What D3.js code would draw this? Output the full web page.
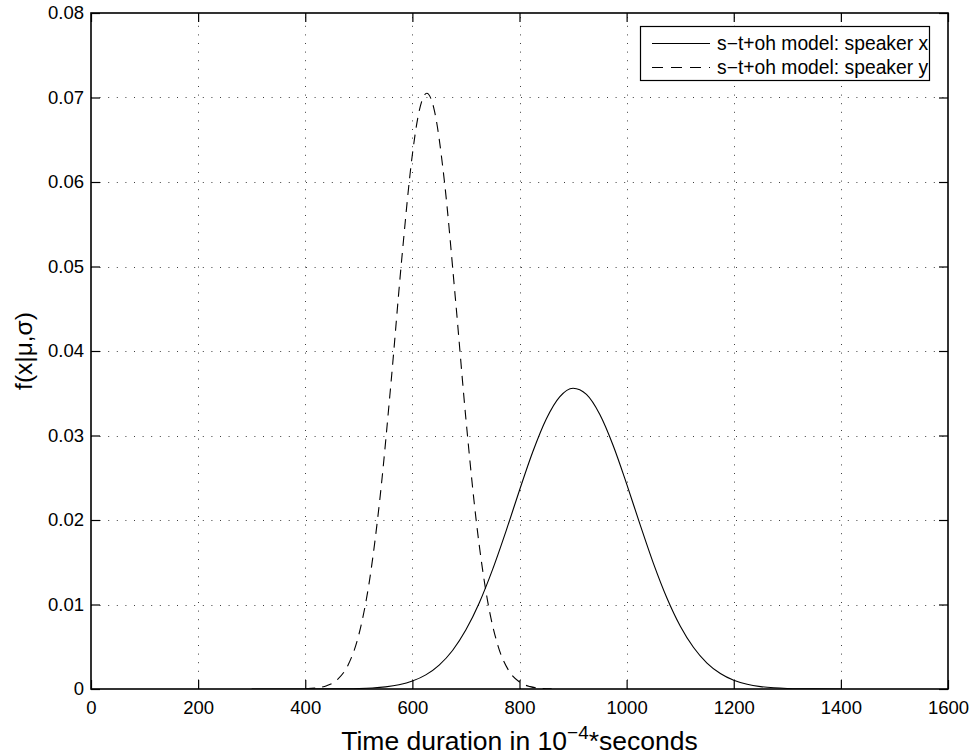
<!DOCTYPE html>
<html>
<head>
<meta charset="utf-8">
<script src="https://cdn.jsdelivr.net/npm/d3@7/dist/d3.min.js"></script>
<style>
  html, body { margin: 0; padding: 0; background: #fff; }
  svg { display: block; font-family: "Liberation Sans", Arial, Helvetica, sans-serif; }
</style>
</head>
<body>
<svg id="chart" width="971" height="756"></svg>
<script>
// ---- data ----
const xTicks = [0, 200, 400, 600, 800, 1000, 1200, 1400, 1600];
const yTicks = [0, 0.01, 0.02, 0.03, 0.04, 0.05, 0.06, 0.07, 0.08];
const yTickLabels = ["0", "0.01", "0.02", "0.03", "0.04", "0.05", "0.06", "0.07", "0.08"];

const seriesNames = ["s\u2212t+oh model: speaker x", "s\u2212t+oh model: speaker y"];

// speaker x (solid)
const speakerX_t = [300, 400, 450, 500, 525, 550, 575, 600, 625, 650, 675, 700, 725, 750, 775, 800, 825, 850, 875, 900,
  925, 950, 975, 1000, 1025, 1050, 1075, 1100, 1125, 1150, 1175, 1200, 1225, 1250, 1275, 1300, 1350, 1400];
const speakerX_f = [0.0000000, 0.0000016, 0.0000104, 0.0000570, 0.000123, 0.000255, 0.000502, 0.000940, 0.00167, 0.00283,
  0.00456, 0.00700, 0.01021, 0.01418, 0.01871, 0.02352, 0.02811, 0.03196, 0.03458, 0.03560,
  0.03486, 0.03248, 0.02879, 0.02428, 0.01948, 0.01487, 0.01080, 0.00746, 0.00491, 0.00307,
  0.00183, 0.00103, 0.000556, 0.000285, 0.000139, 0.0000645, 0.0000119, 0.0000018];

// speaker y (dashed)
const speakerY_t = [400, 420, 440, 460, 480, 500, 520, 540, 560, 580, 600, 610, 620, 627, 640, 660, 680, 700, 720, 740,
  760, 780, 800, 820, 840, 860];
const speakerY_f = [0.0000333, 0.000121, 0.000390, 0.00112, 0.00284, 0.00642, 0.01286, 0.02289, 0.03617, 0.05077,
  0.06326, 0.06754, 0.06999, 0.07050, 0.06875, 0.05997, 0.04644, 0.03193, 0.01949, 0.01057,
  0.00508, 0.00217, 0.000825, 0.000278, 0.0000830, 0.0000221];

// ---- layout ----
const L = 91, R = 948, T = 13, B = 689;
const svg = d3.select("#chart");
svg.append("rect").attr("width", 971).attr("height", 756).attr("fill", "#fff");

const x = d3.scaleLinear().domain([0, 1600]).range([L, R]);
const y = d3.scaleLinear().domain([0, 0.08]).range([B, T]);

// grid
const grid = svg.append("g").attr("stroke", "#000").attr("stroke-width", 1)
  .attr("stroke-dasharray", "1,7.6").attr("opacity", 0.75);
grid.selectAll("line.vx").data(xTicks.slice(1, -1)).join("line")
  .attr("x1", d => Math.round(x(d)) + 0.5).attr("x2", d => Math.round(x(d)) + 0.5)
  .attr("y1", B).attr("y2", T);
grid.selectAll("line.hy").data(yTicks.slice(1, -1)).join("line")
  .attr("y1", d => Math.round(y(d)) + 0.5).attr("y2", d => Math.round(y(d)) + 0.5)
  .attr("x1", L).attr("x2", R);

// clip
svg.append("clipPath").attr("id", "clip").append("rect")
  .attr("x", L).attr("y", T).attr("width", R - L).attr("height", B - T);

const line = d3.line().x(d => x(d[0])).y(d => y(d[1])).curve(d3.curveMonotoneX);
const plot = svg.append("g").attr("clip-path", "url(#clip)");
plot.append("path").datum(d3.zip(speakerX_t, speakerX_f)).attr("d", line)
  .attr("fill", "none").attr("stroke", "#000").attr("stroke-width", 1.1);
plot.append("path").datum(d3.zip(speakerY_t, speakerY_f)).attr("d", line)
  .attr("fill", "none").attr("stroke", "#000").attr("stroke-width", 1.1)
  .attr("stroke-dasharray", "10,7");

// axes
const fs = "18.5px";
const ax = svg.append("g").attr("transform", `translate(0,${B})`)
  .call(d3.axisBottom(x).tickValues(xTicks).tickFormat(d3.format("d")).tickSize(-9).tickSizeOuter(0).tickPadding(12));
const ay = svg.append("g").attr("transform", `translate(${L},0)`)
  .call(d3.axisLeft(y).tickValues(yTicks).tickFormat((d, i) => yTickLabels[i]).tickSize(-9).tickSizeOuter(0).tickPadding(7));
const axT = svg.append("g").attr("transform", `translate(0,${T})`)
  .call(d3.axisTop(x).tickValues(xTicks).tickFormat("").tickSize(-9).tickSizeOuter(0));
const ayR = svg.append("g").attr("transform", `translate(${R},0)`)
  .call(d3.axisRight(y).tickValues(yTicks).tickFormat("").tickSize(-9).tickSizeOuter(0));
[ax, ay, axT, ayR].forEach(g => {
  g.select(".domain").remove();
  g.selectAll(".tick line").attr("stroke", "#000").attr("stroke-width", 1.2);
  g.selectAll(".tick text").attr("fill", "#000").style("font-size", fs)
    .style("font-family", "'Liberation Sans', Arial, Helvetica, sans-serif");
});

// box
svg.append("rect").attr("x", L).attr("y", T).attr("width", R - L).attr("height", B - T)
  .attr("fill", "none").attr("stroke", "#000").attr("stroke-width", 1.6);

// axis labels
const xl = svg.append("text").attr("x", (L + R) / 2).attr("y", 750).attr("text-anchor", "middle")
  .style("font-size", "26.5px").attr("fill", "#000");
xl.append("tspan").text("Time duration in 10");
xl.append("tspan").attr("dy", -11).style("font-size", "19px").text("\u22124");
xl.append("tspan").attr("dy", 11).text("*seconds");

svg.append("text").attr("transform", `translate(32,${(T + B) / 2}) rotate(-90)`)
  .attr("text-anchor", "middle").style("font-size", "24.5px").attr("fill", "#000")
  .text("f(x|\u03bc,\u03c3)");

// legend
const lg = svg.append("g");
lg.append("rect").attr("x", 640.5).attr("y", 26.5).attr("width", 289).attr("height", 54)
  .attr("fill", "#fff").attr("stroke", "#000").attr("stroke-width", 1.2);
const rows = [43, 67];
const dashes = [null, "11,8"];
seriesNames.forEach((name, i) => {
  lg.append("line").attr("x1", 652).attr("x2", 710).attr("y1", rows[i] + 0.5).attr("y2", rows[i] + 0.5)
    .attr("stroke", "#000").attr("stroke-width", 1.1).attr("stroke-dasharray", dashes[i]);
  lg.append("text").attr("x", 717).attr("y", rows[i] + 6.5).style("font-size", "19.3px").attr("fill", "#000").text(name);
});
</script>
</body>
</html>
